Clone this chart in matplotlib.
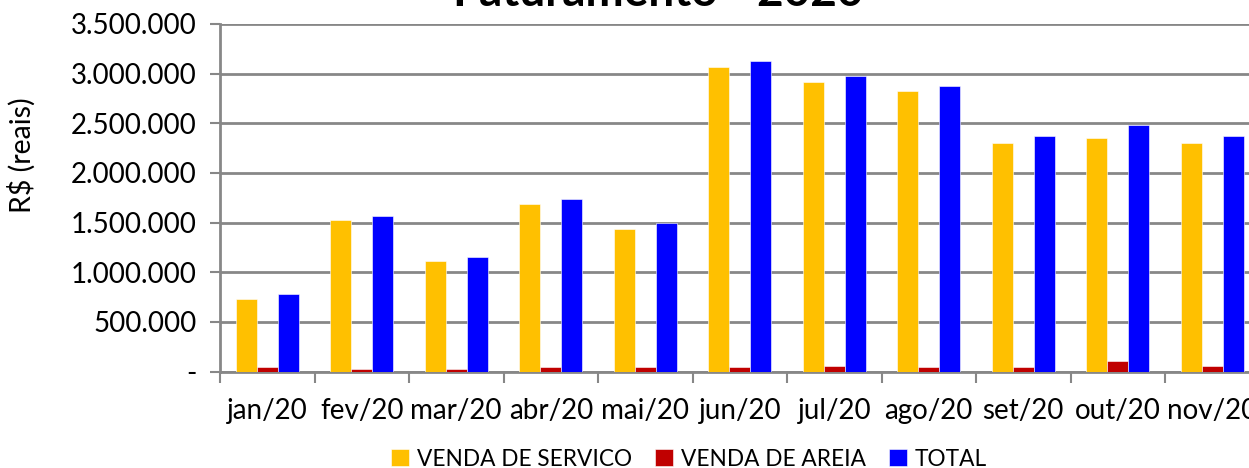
import numpy as np
import matplotlib
matplotlib.use("Agg")
import matplotlib.pyplot as plt
from matplotlib.ticker import FuncFormatter, FixedLocator

# data
meses = ["jan/20", "fev/20", "mar/20", "abr/20", "mai/20", "jun/20",
         "jul/20", "ago/20", "set/20", "out/20", "nov/20"]
venda_servico = [734000, 1526000, 1115000, 1685000, 1432000, 3069000,
                 2913000, 2822000, 2306000, 2356000, 2306000]
venda_areia = [50000, 30000, 30000, 50000, 50000, 50000,
               60000, 50000, 50000, 105000, 55000]
total = [784000, 1567000, 1156000, 1736000, 1500000, 3126000,
         2978000, 2872000, 2370000, 2478000, 2370000]
series_labels = ["VENDA DE SERVICO", "VENDA DE AREIA", "TOTAL"]
y_ticks = [0, 500000, 1000000, 1500000, 2000000, 2500000, 3000000, 3500000]

cores = ["#FFC000", "#C00000", "#0000FF"]
grid_cor = "#878787"

plt.rcParams['font.family'] = ['Lato', 'DejaVu Sans']

W, H = 1249, 468
fig = plt.figure(figsize=(W / 100, H / 100), dpi=100)

# plot area in pixels: left 220, right 1259.5 (past the image edge), top 24, bottom 371.5
ax = fig.add_axes([220 / W, (H - 371.5) / H, (1259.5 - 220) / W, (371.5 - 24) / H])

x = np.arange(len(meses))
w = 0.222
for k, (vals, cor, lab) in enumerate(zip([venda_servico, venda_areia, total], cores, series_labels)):
    ax.bar(x + (k - 1) * w, vals, width=w, color=cor, label=lab,
           edgecolor="#ffffff", linewidth=0.4, zorder=3)

ax.set_xlim(-0.5, len(meses) - 0.5)
ax.set_ylim(0, 3500000)
ax.set_yticks(y_ticks)


def fmt(v, pos):
    if v == 0:
        return "-"
    return f"{int(v):,}".replace(",", ".")


ax.yaxis.set_major_formatter(FuncFormatter(fmt))
ax.yaxis.grid(True, color=grid_cor, linewidth=2, zorder=0)
ax.set_axisbelow(True)

ax.set_xticks(x)
ax.set_xticklabels(meses)
ax.xaxis.set_minor_locator(FixedLocator(np.arange(-0.5, len(meses), 1.0)))
ax.tick_params(axis="x", which="major", length=0, pad=19, labelsize=20)
ax.tick_params(axis="x", which="minor", length=8, width=1.5, color=grid_cor, direction="out")
ax.tick_params(axis="y", length=7, width=1.5, color=grid_cor, pad=10, labelsize=20)

for s in ["top", "right"]:
    ax.spines[s].set_visible(False)
for s in ["left", "bottom"]:
    ax.spines[s].set_color(grid_cor)
    ax.spines[s].set_linewidth(2)

fig.text(22 / W, 1 - 155 / H, "R$ (reais)", rotation=90, ha="center", va="center", fontsize=20.5)

# title, mostly cut off by the top edge
fig.text(658 / W, 1 - 6 / H, "Faturamento - 2020", ha="center", va="baseline",
         fontsize=33, fontweight="bold")

leg = fig.legend(loc="center", bbox_to_anchor=(689 / W, 1 - 459 / H), ncol=3, frameon=False,
                 fontsize=16.3, handlelength=0.8, handleheight=0.8, handletextpad=0.35,
                 columnspacing=1.0, borderaxespad=0)

fig.savefig("out.png", dpi=100)
